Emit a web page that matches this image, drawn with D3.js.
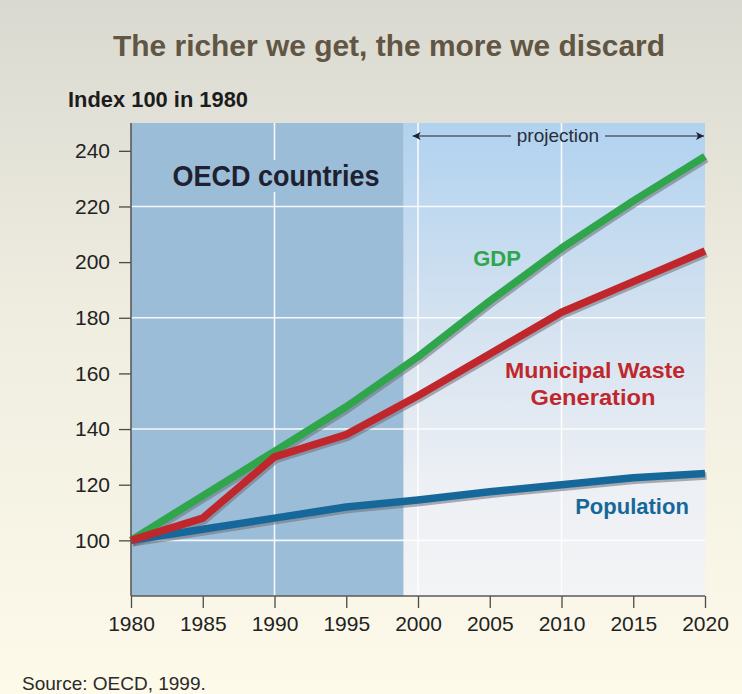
<!DOCTYPE html>
<html>
<head>
<meta charset="utf-8">
<script src="https://cdn.jsdelivr.net/npm/d3@7"></script>
<style>
  html, body { margin: 0; padding: 0; }
  body { width: 742px; height: 694px; overflow: hidden; }
  svg { display: block; font-family: "Liberation Sans", Arial, sans-serif; }
</style>
</head>
<body>
<svg id="chart" width="742" height="694"></svg>
<script>
// Index values (1980 = 100) for OECD countries
const years      = [1980, 1985, 1990, 1995, 2000, 2005, 2010, 2015, 2020];
const gdp        = [100, 116, 132, 148, 166, 186, 205, 222, 238];
const waste      = [100, 108, 130, 138, 152, 167, 182, 193, 204];
const population = [100, 104, 108, 112, 114.5, 117.5, 120, 122.5, 124];

const yTicks     = [100, 120, 140, 160, 180, 200, 220, 240];
const yGrid      = [100, 140, 180, 220];
const xGrid      = [1990, 2000, 2010];
const projectionStart = 1999;

const svg = d3.select("#chart");
const W = 742, H = 694;
const plot = { left: 131, right: 705, top: 123, bottom: 596 };

const x = d3.scaleLinear().domain([1980, 2020]).range([plot.left, plot.right]);
const y = d3.scaleLinear().domain([80, 250]).range([plot.bottom, plot.top]);

const defs = svg.append("defs");
const bg = defs.append("linearGradient").attr("id", "bg").attr("x1", 0).attr("y1", 0).attr("x2", 0).attr("y2", 1);
bg.append("stop").attr("offset", "0%").attr("stop-color", "#dad9d1");
bg.append("stop").attr("offset", "45%").attr("stop-color", "#efede0");
bg.append("stop").attr("offset", "100%").attr("stop-color", "#fdfaea");

const proj = defs.append("linearGradient").attr("id", "proj").attr("x1", 0).attr("y1", 0).attr("x2", 0).attr("y2", 1);
proj.append("stop").attr("offset", "0%").attr("stop-color", "#b1d2ef");
proj.append("stop").attr("offset", "45%").attr("stop-color", "#d6e3f0");
proj.append("stop").attr("offset", "75%").attr("stop-color", "#eceff4");
proj.append("stop").attr("offset", "100%").attr("stop-color", "#f3f4f5");

// page background
svg.append("rect").attr("width", W).attr("height", H).attr("fill", "url(#bg)");

// title
svg.append("text")
  .attr("x", 389).attr("y", 56)
  .attr("text-anchor", "middle")
  .attr("font-size", 30).attr("font-weight", "bold")
  .attr("fill", "#615544")
  .attr("textLength", 552).attr("lengthAdjust", "spacingAndGlyphs")
  .text("The richer we get, the more we discard");

svg.append("text")
  .attr("x", 68).attr("y", 107)
  .attr("font-size", 22).attr("font-weight", "bold")
  .attr("fill", "#1c1c1c")
  .attr("textLength", 180).attr("lengthAdjust", "spacingAndGlyphs")
  .text("Index 100 in 1980");

// historical and projection panels
svg.append("rect")
  .attr("x", x(1980)).attr("y", plot.top)
  .attr("width", x(projectionStart) - x(1980)).attr("height", plot.bottom - plot.top)
  .attr("fill", "#9bbdd8");
svg.append("rect")
  .attr("x", x(projectionStart)).attr("y", plot.top)
  .attr("width", x(2020) - x(projectionStart)).attr("height", plot.bottom - plot.top)
  .attr("fill", "url(#proj)");

// grid
svg.append("g").selectAll("line").data(yGrid).join("line")
  .attr("x1", plot.left).attr("x2", plot.right)
  .attr("y1", d => y(d)).attr("y2", d => y(d))
  .attr("stroke", "#ffffff").attr("stroke-width", 1.6).attr("opacity", 0.9);
svg.append("g").selectAll("line").data(xGrid).join("line")
  .attr("x1", d => x(d)).attr("x2", d => x(d))
  .attr("y1", plot.top).attr("y2", plot.bottom)
  .attr("stroke", "#ffffff").attr("stroke-width", 1.6).attr("opacity", 0.9);

// region label with a patch masking the grid behind it
const oecd = svg.append("g");
oecd.append("rect")
  .attr("x", 170).attr("y", 160).attr("width", 214).attr("height", 32)
  .attr("fill", "#9bbdd8");
oecd.append("text")
  .attr("x", 276).attr("y", 186)
  .attr("text-anchor", "middle")
  .attr("font-size", 30).attr("font-weight", "bold")
  .attr("fill", "#1e2230")
  .attr("textLength", 207).attr("lengthAdjust", "spacingAndGlyphs")
  .text("OECD countries");

// projection arrow
const arrowY = 136;
const ah = defs.append("marker").attr("id", "arrow").attr("viewBox", "0 0 10 10")
  .attr("refX", 10).attr("refY", 5).attr("markerWidth", 10).attr("markerHeight", 8)
  .attr("markerUnits", "userSpaceOnUse").attr("orient", "auto-start-reverse");
ah.append("path").attr("d", "M0,0 L10,5 L0,10 L2.5,5 Z").attr("fill", "#1e2230");
svg.append("line")
  .attr("x1", x(projectionStart) + 9).attr("x2", 511)
  .attr("y1", arrowY).attr("y2", arrowY)
  .attr("stroke", "#1e2230").attr("stroke-width", 1.2)
  .attr("marker-start", "url(#arrow)");
svg.append("line")
  .attr("x1", 605).attr("x2", x(2020) - 1)
  .attr("y1", arrowY).attr("y2", arrowY)
  .attr("stroke", "#1e2230").attr("stroke-width", 1.2)
  .attr("marker-end", "url(#arrow)");
svg.append("text")
  .attr("x", 558).attr("y", 142)
  .attr("text-anchor", "middle")
  .attr("font-size", 19)
  .attr("fill", "#2a2d3a")
  .text("projection");

// axes
const yAxis = d3.axisLeft(y).tickValues(yTicks).tickSize(12).tickPadding(9).tickFormat(d3.format("d"));
const gy = svg.append("g").attr("transform", `translate(${plot.left},0)`).call(yAxis);
gy.select(".domain").remove();
gy.selectAll(".tick line").attr("stroke", "#4a4a4a").attr("stroke-width", 1.3);
gy.selectAll(".tick text").attr("font-size", 21).attr("fill", "#222").attr("font-family", "Liberation Sans, Arial, sans-serif");

const xAxis = d3.axisBottom(x).tickValues(years).tickSize(12).tickPadding(8).tickFormat(d3.format("d"));
const gx = svg.append("g").attr("transform", `translate(0,${plot.bottom})`).call(xAxis);
gx.select(".domain").remove();
gx.selectAll(".tick line").attr("stroke", "#4a4a4a").attr("stroke-width", 1.3);
gx.selectAll(".tick text").attr("font-size", 21).attr("fill", "#222").attr("font-family", "Liberation Sans, Arial, sans-serif");

svg.append("line")
  .attr("x1", plot.left).attr("x2", plot.left)
  .attr("y1", plot.top).attr("y2", plot.bottom)
  .attr("stroke", "#5a5a5a").attr("stroke-width", 1.6);
svg.append("line")
  .attr("x1", plot.left).attr("x2", plot.right)
  .attr("y1", plot.bottom).attr("y2", plot.bottom)
  .attr("stroke", "#5a5a5a").attr("stroke-width", 1.6);

// series lines with a soft drop shadow
const series = [
  { name: "Population", values: population, color: "#17689a" },
  { name: "GDP", values: gdp, color: "#2fa64c" },
  { name: "Municipal Waste Generation", values: waste, color: "#c0272d" }
];
const line = d3.line().x((d, i) => x(years[i])).y(d => y(d));

const shadows = svg.append("g").attr("transform", "translate(1.5,2.5)");
series.forEach(s => {
  shadows.append("path").datum(s.values).attr("d", line)
    .attr("fill", "none").attr("stroke", "#6e6e78").attr("stroke-opacity", 0.55)
    .attr("stroke-width", 7.5).attr("stroke-linejoin", "round");
});
series.forEach(s => {
  svg.append("path").datum(s.values).attr("d", line)
    .attr("fill", "none").attr("stroke", s.color)
    .attr("stroke-width", 7.5).attr("stroke-linejoin", "round");
});

// series labels
svg.append("text")
  .attr("x", 497).attr("y", 266).attr("text-anchor", "middle")
  .attr("font-size", 22).attr("font-weight", "bold").attr("fill", "#2fa64c")
  .text("GDP");
svg.append("text")
  .attr("x", 595).attr("y", 378).attr("text-anchor", "middle")
  .attr("font-size", 22).attr("font-weight", "bold").attr("fill", "#c0272d")
  .attr("textLength", 180).attr("lengthAdjust", "spacingAndGlyphs")
  .text("Municipal Waste");
svg.append("text")
  .attr("x", 593).attr("y", 405).attr("text-anchor", "middle")
  .attr("font-size", 22).attr("font-weight", "bold").attr("fill", "#c0272d")
  .attr("textLength", 125).attr("lengthAdjust", "spacingAndGlyphs")
  .text("Generation");
svg.append("text")
  .attr("x", 632).attr("y", 514).attr("text-anchor", "middle")
  .attr("font-size", 22).attr("font-weight", "bold").attr("fill", "#17689a")
  .text("Population");

// source note
svg.append("text")
  .attr("x", 22).attr("y", 690)
  .attr("font-size", 19).attr("fill", "#2a2a2a")
  .text("Source: OECD, 1999.");
</script>
</body>
</html>
